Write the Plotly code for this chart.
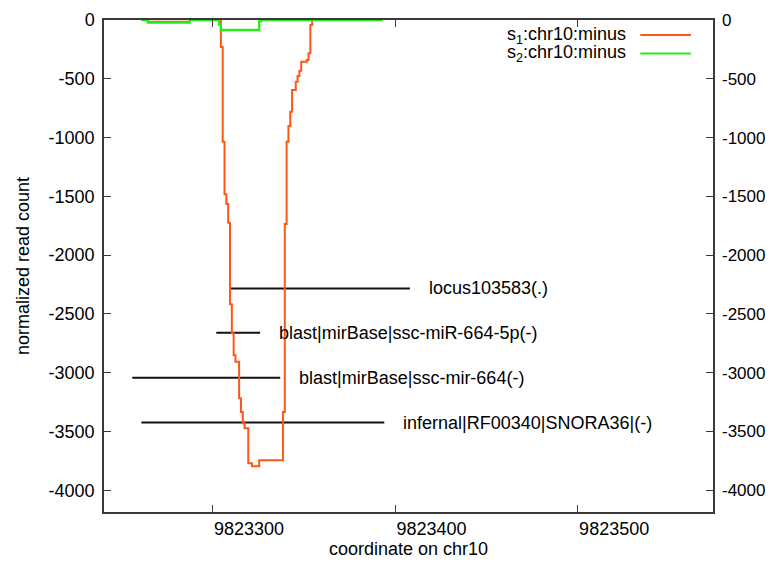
import plotly.graph_objects as go

# ---------------- data ----------------
# s1 (orange) : per-nucleotide normalized read count (histeps), run endpoints listed
s1_pos = [9823261, 9823264, 9823265, 9823287, 9823288, 9823304, 9823305, 9823306,
          9823307, 9823308, 9823309, 9823310, 9823311, 9823312, 9823313, 9823314,
          9823315, 9823316, 9823317, 9823318, 9823319, 9823320, 9823321, 9823322,
          9823325, 9823326, 9823338, 9823339, 9823340, 9823341, 9823342, 9823343,
          9823344, 9823345, 9823346, 9823347, 9823348, 9823349, 9823351, 9823352,
          9823353, 9823354, 9823355, 9823393]
s1_val = [0, 0, -14, -14, 0, 0, -230, -1036,
          -1483, -1566, -1725, -2417, -2664, -2851, -2908, -2908,
          -3217, -3334, -3430, -3472, -3472, -3770, -3770, -3796,
          -3796, -3745, -3745, -3334, -1736, -1036, -902, -780,
          -596, -596, -525, -477, -431, -355, -355, -340,
          -283, -43, 0, 0]

# s2 (green)
s2_pos = [9823261, 9823264, 9823265, 9823287, 9823288, 9823303, 9823304, 9823305,
          9823325, 9823326, 9823327, 9823393]
s2_val = [0, 0, -23, -23, 0, 0, -40, -85,
          -85, -12, 0, 0]

series_names = ["s<sub>1</sub>:chr10:minus", "s<sub>2</sub>:chr10:minus"]
series_colors = ["rgb(255,85,25)", "rgb(40,235,30)"]

# annotated features
feat_names = ["locus103583(.)", "blast|mirBase|ssc-miR-664-5p(-)",
              "blast|mirBase|ssc-mir-664(-)", "infernal|RF00340|SNORA36|(-)"]
feat_start = [9823310, 9823302, 9823256, 9823261]
feat_end = [9823408, 9823326, 9823337, 9823394]
feat_y = [-2283, -2661, -3044, -3424]

x_ticks = [9823300, 9823400, 9823500]
x_ticktext = ["9823300", "9823400", "9823500"]
y_ticks = [0, -500, -1000, -1500, -2000, -2500, -3000, -3500, -4000]
y_ticktext = ["0", "-500", "-1000", "-1500", "-2000", "-2500", "-3000", "-3500", "-4000"]

FONT = "Liberation Sans, Arial, Helvetica, sans-serif"
FS = 18
AXC = "#3a3a3a"

fig = go.Figure()

# feature segments
fx, fy = [], []
for s, e, y in zip(feat_start, feat_end, feat_y):
    fx += [s, e, None]
    fy += [y, y, None]
fig.add_trace(go.Scatter(x=fx, y=fy, mode="lines", line=dict(color="#111111", width=2),
                         showlegend=False, hoverinfo="skip"))

fig.add_trace(go.Scatter(x=s1_pos, y=s1_val, mode="lines", line_shape="hvh",
                         line=dict(color=series_colors[0], width=2), showlegend=False))
fig.add_trace(go.Scatter(x=s2_pos, y=s2_val, mode="lines", line_shape="hvh",
                         line=dict(color=series_colors[1], width=2.3), showlegend=False))
# trace for right axis (same data, invisible)
fig.add_trace(go.Scatter(x=s2_pos, y=s2_val, yaxis="y2", mode="lines",
                         line=dict(width=0), opacity=0, showlegend=False, hoverinfo="skip"))

for name, e, y in zip(feat_names, feat_end, feat_y):
    fig.add_annotation(x=e, y=y, xref="x", yref="y", text=name, showarrow=False,
                       xanchor="left", yanchor="middle", xshift=17,
                       font=dict(family=FONT, size=FS, color="black"))

# manual gnuplot-style legend (text then line sample)
leg_y = [0.9695, 0.932]
for name, col, ly in zip(series_names, series_colors, leg_y):
    fig.add_annotation(x=0.861, y=ly, xref="paper", yref="paper", text=name,
                       showarrow=False, xanchor="right", yanchor="middle",
                       font=dict(family=FONT, size=FS, color="black"))
    fig.add_shape(type="line", xref="paper", yref="paper", x0=0.8806, x1=0.9638,
                  y0=ly, y1=ly, line=dict(color=col, width=2))

# page body adds an 8px margin, so the figure is sized to fit the 773x569 window
fig.update_layout(
    width=765, height=553,
    margin=dict(l=96, r=60, t=12, b=49),
    paper_bgcolor="white", plot_bgcolor="white",
    font=dict(family=FONT, size=FS, color="black"),
    showlegend=False,
    xaxis=dict(range=[9823240.5, 9823574], tickvals=x_ticks, ticktext=x_ticktext,
               ticks="inside", ticklen=7, tickcolor=AXC, showline=True, linecolor=AXC,
               linewidth=1.5, mirror="ticks", showgrid=False, zeroline=False,
               ticklabelposition="outside right", automargin=False,
               tickfont=dict(size=FS),
               title=dict(text="coordinate on chr10", standoff=0,
                          font=dict(family=FONT, size=FS))),
    yaxis=dict(range=[-4185, 0], tickvals=y_ticks, ticktext=y_ticktext,
               ticks="inside", ticklen=7, tickcolor=AXC, showline=True, linecolor=AXC,
               linewidth=1.5, mirror=True, showgrid=False, zeroline=False,
               automargin=False, ticklabelstandoff=4, tickfont=dict(size=FS),
               title=dict(text="normalized read count", standoff=14,
                          font=dict(family=FONT, size=FS))),
    yaxis2=dict(range=[-4185, 0], tickvals=y_ticks, ticktext=y_ticktext,
                overlaying="y", side="right", matches="y", automargin=False,
                ticks="inside", ticklen=7, tickcolor=AXC, showline=False,
                ticklabelstandoff=8, ticklabeloverflow="allow",
                tickfont=dict(size=17),
                showgrid=False, zeroline=False),
)

fig.write_html("out.html")
